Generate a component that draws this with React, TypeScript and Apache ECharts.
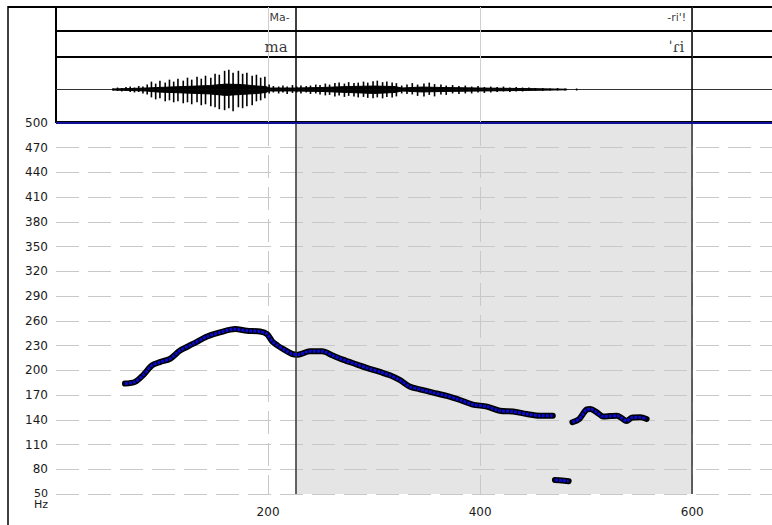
import React, { useEffect, useRef } from "react";
import * as echarts from "echarts";

// ---- axis / layout data ----
const X_MIN = 0;
const X_MAX = 679;
const X_STEP = 200;
const Y_MIN = 50;
const Y_MAX = 500;
const Y_STEP = 30;
const Y_UNIT = "Hz";

// segment boundaries (ms) and tier labels
const boundaries = [226, 600];
const tier1Labels = ["Ma-", "-ri'!"];
const tier2Labels = ["ma", "ˈɾi"];

// ---- F0 contour (ms, Hz) ----
const f0Seg1X = [65, 74.5, 82, 90.5, 98, 107.5, 117, 129, 142.5, 154.5, 169, 180, 192.5, 199, 204, 209, 214, 222.5, 228, 239.5, 251, 261, 270.5, 284, 293, 305.5, 315, 324.5, 334, 343, 355.5, 368.5, 381, 393, 406.5, 418.5, 431, 444, 456.5, 468.5];
const f0Seg1Y = [184, 186, 194, 206, 210, 214, 224, 232, 241, 246, 250, 248, 247, 244, 235, 230, 226, 220, 219, 223, 223, 218, 213, 207, 203, 198, 194, 188, 180, 177, 173, 169, 164, 158.5, 156, 151, 150, 147, 145, 145];
const f0Seg2X = [470.5, 477, 483.5];
const f0Seg2Y = [67, 66.5, 65.5];
const f0Seg3X = [487, 493.5, 500.5, 504, 510, 516, 522.5, 529, 533.5, 538, 543, 551, 557];
const f0Seg3Y = [137, 141, 152.5, 153, 149, 144, 144.5, 145, 142, 138.5, 142.5, 143, 141];

// ---- waveform (ms, amplitude) ----
const waveSpikeX = [54, 58, 62, 66, 70, 74, 78, 82, 86, 90, 94, 98, 103, 107, 111, 115, 120, 124, 128, 133, 137, 141, 146, 150, 154, 159, 163, 167, 172, 176, 180, 185, 189, 193, 197, 201, 205, 210, 214, 218, 223, 227, 231, 236, 240, 245, 249, 254, 258, 263, 267, 272, 276, 281, 285, 290, 294, 299, 303, 308, 312, 317, 321, 326, 331, 336, 341, 347, 352, 357, 363, 368, 374, 380, 386, 392, 398, 404, 410, 416, 422, 428, 434, 440, 446, 452, 459, 466, 473, 480, 491];
const waveSpikeTop = [1, 2, 1.5, 2.5, 3, 2, 3.5, 3, 5, 8, 6, 9, 7, 10, 8, 11, 9, 12, 10, 13, 11, 14, 12, 16, 15, 19, 20, 17, 19, 16, 17, 14, 15, 12, 13, 5, 3.5, 3, 4, 3, 4.5, 3, 4, 3.5, 4, 5, 4.5, 6, 5, 6.5, 7, 6, 7.5, 6.5, 7, 8, 7, 8.5, 9, 7.5, 8, 7, 6.5, 4, 5, 6.5, 5, 6, 7, 5.5, 5, 4, 4.5, 3.5, 4, 3, 3.5, 2.5, 3, 2.5, 3, 2, 2.5, 2, 2, 1.5, 1.5, 1, 1.5, 1, 1];
const waveSpikeBottom = [-1, -1.5, -2, -1.5, -2.5, -3, -2.5, -4, -5, -8, -10, -9, -12, -11, -13, -12, -14, -13, -15, -13, -16, -15, -17, -18, -20, -21, -19, -22, -18, -19, -17, -16, -12, -11, -9, -4, -3, -4, -3, -4.5, -3.5, -3, -4, -3, -4.5, -4, -5, -6, -5.5, -7, -6, -7.5, -6.5, -7, -8, -7.5, -8.5, -9, -8, -9, -7.5, -8, -7, -4, -4.5, -5, -6.5, -7, -5.5, -7, -5, -5.5, -4, -4.5, -4, -4, -3, -3.5, -3, -2.5, -2, -2.5, -2, -2, -1.5, -1, -1.5, -1, -1, -1, -1];
const waveCoreX = [53, 70, 85, 95, 120, 145, 160, 175, 190, 198, 201, 225, 250, 275, 300, 320, 326, 345, 365, 400, 440, 470, 482];
const waveCoreTop = [0.5, 1, 1.5, 2, 3, 4, 5.5, 5, 3.5, 3, 1.5, 1.5, 2, 3, 3.5, 3, 1.5, 2.5, 2, 1.5, 1, 0.5, 0.3];
const waveCoreBottom = [-0.5, -1, -1.5, -2.5, -3.5, -4.5, -6, -5, -4, -3, -1.5, -1.5, -2, -3, -4, -3, -1.5, -2.5, -2, -1.5, -1, -0.5, -0.3];

const zip = (xs: number[], ys: number[]) => xs.map((x, i) => [x, ys[i]]);

const LEFT = 56;
const WIDTH = 720;
const LABEL_FONT = "DejaVu Sans";

function boundaryMarkLine(color: string, width: number) {
  return {
    silent: true,
    symbol: "none",
    label: { show: false },
    lineStyle: { color, width, type: "solid" },
    data: boundaries.map((b) => ({ xAxis: b })),
  };
}

export default function App() {
  const ref = useRef<HTMLDivElement>(null);

  useEffect(() => {
    if (!ref.current) return;
    const chart = echarts.init(ref.current, null, { renderer: "svg" });

    const tierX = (gi: number, axisLine = false) => ({
      type: "value",
      gridIndex: gi,
      min: X_MIN,
      max: X_MAX,
      interval: X_STEP,
      axisLabel: { show: false },
      axisTick: { show: false },
      axisLine: axisLine
        ? { show: true, onZero: true, lineStyle: { color: "#333", width: 1 } }
        : { show: false },
      splitLine: {
        show: true,
        showMinLine: false,
        showMaxLine: false,
        lineStyle: { color: "#cfcfcf", width: 1 },
      },
    });

    const pitchSeries: any[] = [];
    [
      [f0Seg1X, f0Seg1Y],
      [f0Seg2X, f0Seg2Y],
      [f0Seg3X, f0Seg3Y],
    ].forEach(([xs, ys]) => {
      const data = zip(xs, ys);
      pitchSeries.push({
        type: "line",
        xAxisIndex: 3,
        yAxisIndex: 3,
        data,
        smooth: 0.3,
        symbol: "none",
        silent: true,
        lineStyle: { color: "#000", width: 6, cap: "round", join: "round" },
        z: 4,
      });
      pitchSeries.push({
        type: "line",
        xAxisIndex: 3,
        yAxisIndex: 3,
        data,
        smooth: 0.3,
        symbol: "none",
        silent: true,
        lineStyle: { color: "#0a0acc", width: 3, type: [3, 1] },
        z: 5,
      });
    });

    chart.setOption({
      animation: false,
      backgroundColor: "#fff",
      grid: [
        { left: LEFT, top: 7, width: WIDTH, height: 24, show: true, borderColor: "#000", borderWidth: 2, backgroundColor: "transparent" },
        { left: LEFT, top: 31, width: WIDTH, height: 26, show: true, borderColor: "#000", borderWidth: 2, backgroundColor: "transparent" },
        { left: LEFT, top: 57, width: WIDTH, height: 65, show: true, borderColor: "#000", borderWidth: 2, backgroundColor: "transparent" },
        { left: LEFT, top: 123, width: WIDTH, height: 371 },
      ],
      xAxis: [
        tierX(0),
        tierX(1),
        tierX(2, true),
        {
          type: "value",
          gridIndex: 3,
          min: X_MIN,
          max: X_MAX,
          interval: X_STEP,
          axisLine: { show: false },
          axisTick: { show: false },
          axisLabel: {
            showMinLabel: false,
            showMaxLabel: false,
            margin: 12,
            color: "#1a1a1a",
            fontFamily: LABEL_FONT,
            fontSize: 12,
          },
          splitLine: {
            show: true,
            showMinLine: false,
            showMaxLine: false,
            lineStyle: { color: "#c8c8c8", width: 1, type: [23, 9] },
          },
        },
      ],
      yAxis: [
        { type: "value", gridIndex: 0, min: 0, max: 1, show: false },
        { type: "value", gridIndex: 1, min: 0, max: 1, show: false },
        { type: "value", gridIndex: 2, min: -33, max: 33, show: false },
        {
          type: "value",
          gridIndex: 3,
          min: Y_MIN,
          max: Y_MAX,
          interval: Y_STEP,
          axisLine: { show: false },
          axisTick: { show: false },
          axisLabel: {
            margin: 8,
            color: "#1a1a1a",
            fontFamily: LABEL_FONT,
            fontSize: 12,
            formatter: (v: number) => (v === Y_MIN ? `{s|}\n{a|${v}}\n{b|${Y_UNIT}}` : `${v}`),
            rich: {
              s: { fontSize: 9, lineHeight: 9, align: "right" },
              a: { fontFamily: LABEL_FONT, fontSize: 11, lineHeight: 11, color: "#1a1a1a", align: "right" },
              b: { fontFamily: LABEL_FONT, fontSize: 11, lineHeight: 11, color: "#1a1a1a", align: "right" },
            },
          },
          splitLine: {
            show: true,
            showMaxLine: false,
            lineStyle: { color: "#c8c8c8", width: 1, type: [23, 9] },
          },
        },
      ],
      graphic: [
        { type: "line", shape: { x1: 8, y1: 7, x2: 56, y2: 7 }, style: { stroke: "#000", lineWidth: 2 } },
        { type: "line", shape: { x1: 8, y1: 6, x2: 8, y2: 525 }, style: { stroke: "#000", lineWidth: 1.5 } },
      ],
      series: [
        // tier 1 labels
        {
          type: "scatter",
          xAxisIndex: 0,
          yAxisIndex: 0,
          symbolSize: 0,
          silent: true,
          data: boundaries.map((b, i) => ({ value: [b, 0.56], name: tier1Labels[i] })),
          label: {
            show: true,
            position: "left",
            distance: 6,
            formatter: "{b}",
            color: "#000",
            fontFamily: LABEL_FONT,
            fontSize: 11,
          },
          markLine: boundaryMarkLine("#000", 1.5),
        },
        // tier 2 labels
        {
          type: "scatter",
          xAxisIndex: 1,
          yAxisIndex: 1,
          symbolSize: 0,
          silent: true,
          data: boundaries.map((b, i) => ({ value: [b, 0.4], name: tier2Labels[i] })),
          label: {
            show: true,
            position: "left",
            distance: 8,
            formatter: "{b}",
            color: "#000",
            fontFamily: "DejaVu Serif",
            fontSize: 15,
          },
          markLine: boundaryMarkLine("#000", 1.5),
        },
        // waveform core
        {
          type: "line",
          xAxisIndex: 2,
          yAxisIndex: 2,
          data: zip(waveCoreX, waveCoreTop),
          symbol: "none",
          silent: true,
          lineStyle: { color: "#000", width: 1 },
          areaStyle: { color: "#000", opacity: 1 },
          markLine: boundaryMarkLine("#000", 1.5),
        },
        {
          type: "line",
          xAxisIndex: 2,
          yAxisIndex: 2,
          data: zip(waveCoreX, waveCoreBottom),
          symbol: "none",
          silent: true,
          lineStyle: { color: "#000", width: 1 },
          areaStyle: { color: "#000", opacity: 1 },
        },
        // waveform spikes
        {
          type: "custom",
          xAxisIndex: 2,
          yAxisIndex: 2,
          silent: true,
          data: waveSpikeX.map((x, i) => [x, waveSpikeTop[i], waveSpikeBottom[i]]),
          encode: { x: 0, y: [1, 2] },
          renderItem: (params: any, api: any) => {
            const p1 = api.coord([api.value(0), api.value(1)]);
            const p2 = api.coord([api.value(0), api.value(2)]);
            return {
              type: "line",
              shape: { x1: p1[0], y1: p1[1], x2: p2[0], y2: p2[1] },
              style: { stroke: "#000", lineWidth: 1.6 },
            };
          },
        },
        // main: shaded interval
        {
          type: "line",
          xAxisIndex: 3,
          yAxisIndex: 3,
          data: [],
          silent: true,
          z: -1,
          markArea: {
            silent: true,
            z: -1,
            itemStyle: { color: "#e5e5e5" },
            data: [[{ xAxis: boundaries[0] }, { xAxis: boundaries[1] }]],
          },
        },
        // main: boundaries + top line
        {
          type: "line",
          xAxisIndex: 3,
          yAxisIndex: 3,
          data: [],
          silent: true,
          markLine: {
            silent: true,
            symbol: "none",
            label: { show: false },
            data: [
              ...boundaries.map((b) => ({ xAxis: b, lineStyle: { color: "#333", width: 1.5, type: "solid" } })),
              { yAxis: Y_MAX, lineStyle: { color: "#10109a", width: 2, type: "solid" } },
            ],
          },
        },
        ...pitchSeries,
      ],
    });

    return () => chart.dispose();
  }, []);

  return (
    <div style={{ position: "absolute", left: 0, top: 0, width: 772, height: 525, overflow: "hidden", background: "#fff" }}>
      <div ref={ref} style={{ width: 800, height: 525 }} />
    </div>
  );
}
